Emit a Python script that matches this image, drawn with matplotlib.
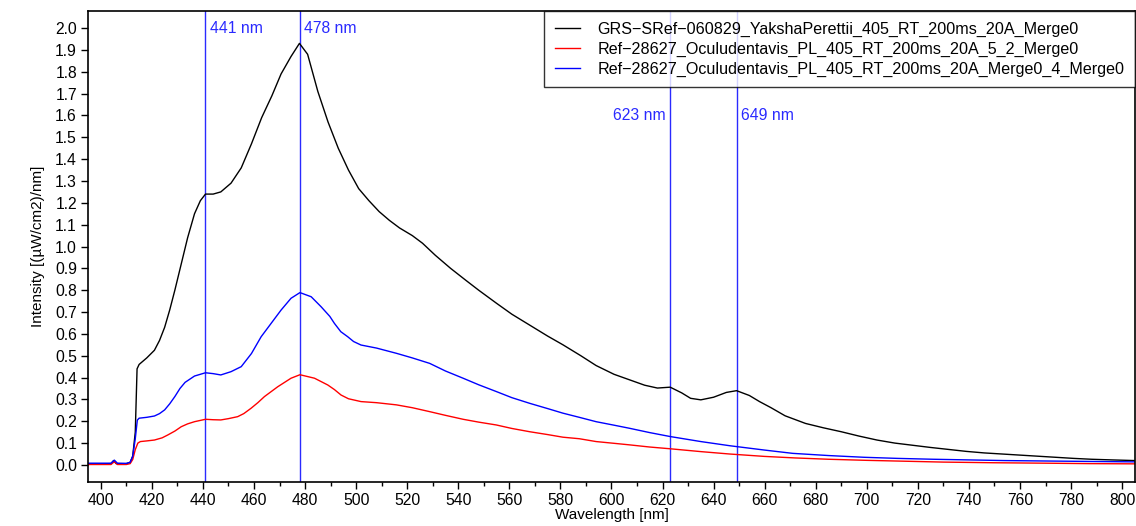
import numpy as np
import matplotlib
matplotlib.use("Agg")
import matplotlib.pyplot as plt
from matplotlib.ticker import MultipleLocator

plt.rcParams["font.family"] = ["Liberation Sans", "DejaVu Sans"]

# GRS-SRef-060829 Yaksha perettii
wl_grs = [395, 400, 404, 405, 406, 410, 411.5, 412.5, 413.5, 414.2, 415, 418, 421, 423, 425,
          427, 429, 431.5, 434, 436.7, 439, 441, 444, 447, 451, 455, 459, 463, 467, 470.6,
          474.5, 477.8, 481, 485, 489, 493, 497, 501, 505, 509, 513, 517, 522, 526, 531,
          537, 543, 548, 555, 561, 568, 575, 581, 588, 594, 601, 607, 613, 618, 623,
          627.5, 631, 635, 640, 645, 649, 654, 658, 662.5, 668, 676, 683, 690, 697, 704,
          711, 718, 725, 732, 739, 746, 753, 760, 767, 774, 781, 788, 796, 805]
int_grs = [0.005, 0.005, 0.006, 0.02, 0.006, 0.006, 0.012, 0.04, 0.15, 0.44, 0.46, 0.49, 0.525, 0.57, 0.63,
           0.71, 0.80, 0.92, 1.04, 1.15, 1.21, 1.24, 1.24, 1.25, 1.29, 1.36, 1.47, 1.59, 1.69, 1.79,
           1.87, 1.93, 1.88, 1.71, 1.57, 1.45, 1.35, 1.265, 1.21, 1.16, 1.12, 1.085, 1.05, 1.015, 0.96,
           0.90, 0.845, 0.80, 0.74, 0.69, 0.64, 0.59, 0.55, 0.50, 0.455, 0.415, 0.39, 0.365, 0.352, 0.356,
           0.33, 0.305, 0.298, 0.31, 0.332, 0.34, 0.318, 0.29, 0.262, 0.225, 0.19, 0.17, 0.152, 0.132, 0.114,
           0.10, 0.09, 0.08, 0.071, 0.062, 0.055, 0.05, 0.045, 0.04, 0.035, 0.03, 0.026, 0.023, 0.02]

# Ref-28627 Oculudentavis, 5_2 merge
wl_ocu_a = [395, 400, 404, 405.3, 406.5, 410, 411.5, 412.5, 413.5, 414.5, 415.5, 418, 421, 424, 426.2,
            429, 431.5, 434, 436.7, 441, 444, 447, 450, 453.6, 456, 458.8, 461.5, 464.1, 469.3, 474.5,
            478, 483.7, 488.9, 491.5, 494.1, 497, 501.9, 508, 515.8, 522, 528.8, 535, 541.9, 548, 554.9,
            561, 568, 575, 581, 587.4, 594, 601, 607, 615, 623, 635, 646.3, 660, 672, 685,
            700, 715, 730, 750, 770, 787, 805]
int_ocu_a = [0.002, 0.002, 0.002, 0.015, 0.002, 0.002, 0.006, 0.025, 0.07, 0.10, 0.107, 0.11, 0.114, 0.124, 0.137,
             0.155, 0.175, 0.188, 0.198, 0.209, 0.207, 0.206, 0.212, 0.221, 0.235, 0.259, 0.285, 0.313, 0.358, 0.397,
             0.413, 0.397, 0.366, 0.345, 0.32, 0.303, 0.29, 0.285, 0.275, 0.262, 0.244, 0.227, 0.209, 0.196, 0.183,
             0.167, 0.152, 0.139, 0.127, 0.12, 0.107, 0.099, 0.092, 0.082, 0.074, 0.061, 0.05, 0.039, 0.032, 0.026,
             0.021, 0.017, 0.013, 0.01, 0.008, 0.006, 0.005]

# Ref-28627 Oculudentavis, Merge0_4 merge
wl_ocu_b = [395, 400, 404, 405.3, 406.5, 410, 411.5, 412.5, 413.5, 414.3, 415, 418, 421, 423, 425,
            427, 429, 431, 433, 436.7, 441, 444, 447, 451, 455, 459, 462.8, 466.7, 470.6, 474.5,
            478, 482.4, 486.3, 489.7, 491.5, 494, 496.7, 499, 501.9, 508, 515.8, 522, 528.8, 535, 541.9,
            548, 554.9, 561, 568, 575, 581, 587.4, 594, 601, 607, 615, 623, 635, 646.3, 649,
            660, 671, 685, 699, 712, 726, 740, 754, 770, 787, 805]
int_ocu_b = [0.008, 0.008, 0.008, 0.022, 0.008, 0.007, 0.012, 0.04, 0.12, 0.205, 0.214, 0.218, 0.224, 0.235, 0.252,
             0.28, 0.313, 0.35, 0.378, 0.407, 0.422, 0.418, 0.412, 0.427, 0.45, 0.51, 0.587, 0.648, 0.709, 0.763,
             0.789, 0.77, 0.724, 0.68, 0.648, 0.61, 0.587, 0.565, 0.549, 0.535, 0.511, 0.49, 0.465, 0.43, 0.397,
             0.367, 0.336, 0.308, 0.282, 0.258, 0.237, 0.218, 0.198, 0.182, 0.168, 0.148, 0.13, 0.107, 0.088, 0.084,
             0.068, 0.053, 0.043, 0.035, 0.03, 0.026, 0.023, 0.02, 0.018, 0.016, 0.014]

series_labels = ["GRS\u2212SRef\u2212060829_YakshaPerettii_405_RT_200ms_20A_Merge0",
                 "Ref\u221228627_Oculudentavis_PL_405_RT_200ms_20A_5_2_Merge0",
                 "Ref\u221228627_Oculudentavis_PL_405_RT_200ms_20A_Merge0_4_Merge0"]

peak_wl = [441, 478, 623, 649]

fig = plt.figure(figsize=(11.36, 5.26), dpi=100)
ax = fig.add_axes([0.0775, 0.0837, 0.9215, 0.8953])

ax.plot(wl_grs, int_grs, color="black", lw=1.0, label=series_labels[0])
ax.plot(wl_ocu_a, int_ocu_a, color="#ff0000", lw=1.0, label=series_labels[1])
ax.plot(wl_ocu_b, int_ocu_b, color="#0000ff", lw=1.0, label=series_labels[2])

# peak markers
blue = "#2a2aff"
for w in peak_wl:
    ax.axvline(w, color=blue, lw=1.0, zorder=1)
ax.text(441 + 1.6, 2.0, "441 nm", color=blue, fontsize=11.3, va="center", ha="left")
ax.text(478 + 1.6, 2.0, "478 nm", color=blue, fontsize=11.3, va="center", ha="left")
ax.text(623 - 1.7, 1.60, "623 nm", color=blue, fontsize=11.3, va="center", ha="right")
ax.text(649 + 1.6, 1.60, "649 nm", color=blue, fontsize=11.3, va="center", ha="left")

ax.set_xlim(395, 805)
ax.set_ylim(-0.078, 2.078)
ax.xaxis.set_major_locator(MultipleLocator(20))
ax.xaxis.set_minor_locator(MultipleLocator(10))
ax.set_yticks(np.round(np.arange(0, 2.01, 0.1), 1))
ax.set_yticklabels([f"{v:.1f}" for v in np.arange(0, 2.01, 0.1)])
ax.tick_params(axis="both", which="major", direction="out", length=5, width=1, labelsize=11.3, pad=3)
ax.tick_params(axis="x", which="minor", direction="out", length=3, width=1)
for sp in ax.spines.values():
    sp.set_linewidth(1.2)

ax.set_xlabel("Wavelength [nm]", fontsize=11, labelpad=0)
ax.set_ylabel("Intensity [(\u00b5W/cm2)/nm]", fontsize=11, labelpad=7)

leg = ax.legend(loc="upper right", fontsize=11.6, frameon=True, fancybox=False,
                borderaxespad=0, handlelength=1.6, labelspacing=0.3, borderpad=0.65,
                handletextpad=1.05)
leg.get_frame().set_edgecolor("black")
leg.get_frame().set_linewidth(1.0)

fig.savefig("out.png", dpi=100)
